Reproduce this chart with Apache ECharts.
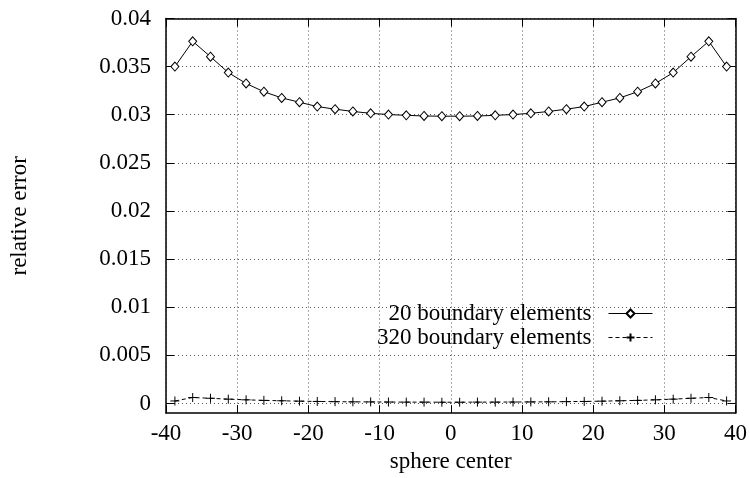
<!DOCTYPE html>
<html>
<head>
<meta charset="utf-8">
<script src="https://cdn.jsdelivr.net/npm/echarts@6/dist/echarts.min.js"></script>
<style>html,body{margin:0;padding:0;background:#fff}#c{width:750px;height:478px}</style>
</head>
<body>
<div id="c"></div>
<script>
var xs = [-38.75,-36.25,-33.75,-31.25,-28.75,-26.25,-23.75,-21.25,-18.75,-16.25,-13.75,-11.25,-8.75,-6.25,-3.75,-1.25,
          1.25,3.75,6.25,8.75,11.25,13.75,16.25,18.75,21.25,23.75,26.25,28.75,31.25,33.75,36.25,38.75];
var y20 = [0.0350,0.03763,0.03603,0.03438,0.03325,0.03239,0.03175,0.03130,0.03085,0.03058,0.03034,0.03015,0.03002,0.02994,0.02987,0.02985,
           0.02985,0.02987,0.02994,0.03002,0.03015,0.03034,0.03058,0.03085,0.03130,0.03175,0.03239,0.03325,0.03438,0.03603,0.03763,0.0350];
var y320 = [0.00026,0.00062,0.00054,0.00045,0.00038,0.00032,0.00028,0.00024,0.00021,0.00019,0.00017,0.00016,0.00015,0.00014,0.00014,0.00013,
            0.00013,0.00014,0.00014,0.00015,0.00016,0.00017,0.00019,0.00021,0.00024,0.00028,0.00032,0.00038,0.00045,0.00054,0.00062,0.00026];
var yTicks = [0,0.005,0.01,0.015,0.02,0.025,0.03,0.035,0.04];
var name20 = '20 boundary elements';
var name320 = '320 boundary elements';
var xName = 'sphere center';
var yName = 'relative error';

var FONT = 'Liberation Serif';
var FS = 23;
function pairs(a){ return xs.map(function(x,i){ return [x,a[i]]; }); }

var chart = echarts.init(document.getElementById('c'), null, {renderer:'canvas'});
var axisLine = {show:true, onZero:false, lineStyle:{color:'#000', width:1.5}};
var tick = {show:true, inside:true, length:8, lineStyle:{color:'#000', width:1}};
var grid = {show:true, lineStyle:{color:'#555', type:[1,3], width:1}};
var legendBase = {
  orient:'vertical', align:'right', right:97, padding:0,
  itemWidth:44, itemHeight:10,
  lineStyle:{width:1},
  textStyle:{color:'#000', fontFamily:FONT, fontSize:FS, padding:[0,12,0,0]}
};
chart.setOption({
  animation:false,
  backgroundColor:'#fff',
  grid:{left:166, right:13, top:18.5, bottom:58.7},
  xAxis:[{
    type:'value', min:-40, max:40, interval:10, position:'bottom',
    axisLine:axisLine, axisTick:tick, splitLine:grid,
    axisLabel:{color:'#000', fontFamily:FONT, fontSize:FS, margin:9},
    name:xName, nameLocation:'middle', nameGap:34,
    nameTextStyle:{color:'#000', fontFamily:FONT, fontSize:FS}
  },{
    type:'value', min:-40, max:40, interval:10, position:'top',
    axisLine:axisLine, axisTick:tick, splitLine:{show:false}, axisLabel:{show:false}
  }],
  yAxis:[{
    type:'value', min:-0.001, max:0.04, position:'left',
    axisLine:axisLine,
    axisTick:{show:true, inside:true, length:8, lineStyle:{color:'#000', width:1}, customValues:yTicks},
    splitLine:grid,
    axisLabel:{color:'#000', fontFamily:FONT, fontSize:FS, margin:15, customValues:yTicks,
      formatter:function(v){ return String(parseFloat(v.toFixed(4))); }},
    name:yName, nameLocation:'middle', nameGap:135,
    nameTextStyle:{color:'#000', fontFamily:FONT, fontSize:FS}
  },{
    type:'value', min:-0.001, max:0.04, position:'right',
    axisLine:axisLine,
    axisTick:{show:true, inside:true, length:8, lineStyle:{color:'#000', width:1}, customValues:yTicks},
    splitLine:{show:false}, axisLabel:{show:false}
  }],
  legend:[
    Object.assign({}, legendBase, {data:[name20], top:302}),
    Object.assign({}, legendBase, {data:[name320], top:326})
  ],
  series:[{
    name:name20, type:'line', data:pairs(y20),
    symbol:'diamond', symbolSize:[8,9], showAllSymbol:true,
    lineStyle:{color:'#000', width:1},
    itemStyle:{color:'#fff', borderColor:'#000', borderWidth:1}
  },{
    name:name320, type:'line', data:pairs(y320),
    symbol:'path://M0,5L10,5M5,0L5,10', symbolSize:9, showAllSymbol:true,
    lineStyle:{color:'#000', width:1, type:[4,3]},
    itemStyle:{color:'none', borderColor:'#000', borderWidth:1}
  }]
});
</script>
</body>
</html>
